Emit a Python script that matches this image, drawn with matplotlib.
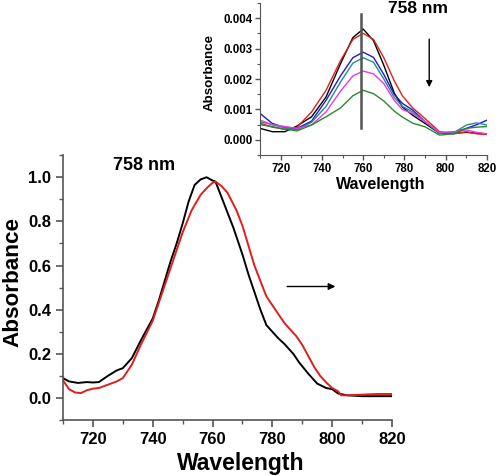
import numpy as np
import matplotlib.pyplot as plt
from matplotlib.ticker import MultipleLocator, FormatStrFormatter

plt.rcParams['font.family'] = ['Liberation Sans', 'DejaVu Sans']
plt.rcParams['font.weight'] = 'bold'

# main panel: normalised spectra
main_black_x = [710, 712, 715, 718, 720, 722, 725, 728, 730, 733, 736, 740, 742, 746, 748,
                750, 752, 754, 756, 758, 760, 761, 763, 765, 767, 770, 772, 774, 776, 778,
                780, 782, 784, 787, 789, 792, 795, 798, 800, 802, 805, 810, 815, 820]
main_black_y = [0.09, 0.075, 0.068, 0.072, 0.07, 0.072, 0.10, 0.125, 0.135, 0.18, 0.26, 0.36,
                0.44, 0.62, 0.70, 0.79, 0.89, 0.965, 0.99, 1.0, 0.985, 0.98, 0.91, 0.84, 0.77,
                0.65, 0.56, 0.48, 0.40, 0.33, 0.30, 0.27, 0.245, 0.20, 0.16, 0.11, 0.065,
                0.045, 0.04, 0.02, 0.012, 0.008, 0.008, 0.008]

main_red_x = [710, 712, 714, 716, 718, 720, 722, 725, 728, 730, 733, 736, 740, 745, 750, 753,
              756, 758, 760, 761, 763, 765, 768, 770, 772, 774, 776, 778, 780, 782, 784, 786,
              788, 790, 792, 794, 796, 798, 800, 802, 803, 805, 810, 815, 820]
main_red_y = [0.08, 0.04, 0.025, 0.022, 0.035, 0.042, 0.045, 0.06, 0.075, 0.09, 0.15, 0.24,
              0.35, 0.55, 0.75, 0.85, 0.92, 0.95, 0.975, 0.98, 0.96, 0.93, 0.85, 0.78, 0.69,
              0.60, 0.53, 0.46, 0.42, 0.38, 0.34, 0.31, 0.28, 0.24, 0.19, 0.14, 0.10, 0.07,
              0.045, 0.03, 0.012, 0.012, 0.015, 0.018, 0.018]

# inset: absorbance decreasing over time
inset_x = [710, 716, 722, 728, 735, 742, 749, 755, 760, 765, 770, 775, 779, 784, 790, 797,
           804, 810, 815, 820]
inset_black = [0.00038, 0.00027, 0.00027, 0.00046, 0.00076, 0.00141, 0.0025, 0.00336,
               0.00364, 0.00326, 0.00245, 0.00155, 0.00108, 0.00081, 0.00054, 0.00022,
               0.00022, 0.00025, 0.00022, 0.0002]
inset_red = [0.00055, 0.00042, 0.00035, 0.00042, 0.00092, 0.00163, 0.0026, 0.0033,
             0.0035, 0.0033, 0.0027, 0.00195, 0.00145, 0.00105, 0.0007, 0.00027,
             0.0002, 0.00027, 0.0002, 0.00018]
inset_blue = [0.00087, 0.00054, 0.00041, 0.00038, 0.00062, 0.0013, 0.0021, 0.0027,
              0.00288, 0.00271, 0.00215, 0.0015, 0.0012, 0.00098, 0.0006, 0.00022,
              0.00025, 0.00038, 0.0005, 0.00065]
inset_teal = [0.0006, 0.0005, 0.0004, 0.00033, 0.00058, 0.0011, 0.0019, 0.00252,
              0.0027, 0.00255, 0.002, 0.0014, 0.0011, 0.00092, 0.0006, 0.00022,
              0.00024, 0.00049, 0.00056, 0.00049]
inset_magenta = [0.00065, 0.0005, 0.00044, 0.00038, 0.00049, 0.00092, 0.0016, 0.0021,
                 0.00226, 0.00217, 0.00185, 0.0013, 0.001, 0.00087, 0.0006, 0.00025,
                 0.00027, 0.00033, 0.00025, 0.0002]
inset_green = [0.0005, 0.00044, 0.00035, 0.0003, 0.00049, 0.00076, 0.00105, 0.00145,
               0.00163, 0.00152, 0.00128, 0.00095, 0.00075, 0.00055, 0.00043, 0.00016,
               0.0002, 0.00038, 0.00042, 0.00044]

inset_series = [inset_black, inset_red, inset_blue, inset_teal, inset_magenta, inset_green]
inset_colors = ['black', '#e01e1e', '#1c1cd6', '#278c8c', '#e43ce4', '#2a8a2a']

fig = plt.figure(figsize=(5, 4.76), dpi=100)
spine_col = '#555555'

# main plot
ax = fig.add_axes([0.126, 0.1176, 0.658, 0.5564])
ax.plot(main_black_x, main_black_y, color='black', lw=1.4)
ax.plot(main_red_x, main_red_y, color='#e01e1e', lw=1.4)
ax.set_xlim(710, 820)
ax.set_ylim(-0.1, 1.1)
ax.xaxis.set_major_locator(MultipleLocator(20))
ax.xaxis.set_minor_locator(MultipleLocator(10))
ax.yaxis.set_major_locator(MultipleLocator(0.2))
ax.yaxis.set_minor_locator(MultipleLocator(0.1))
ax.yaxis.set_major_formatter(FormatStrFormatter('%.1f'))
ax.set_yticks([0.0, 0.2, 0.4, 0.6, 0.8, 1.0])
ax.set_xlabel('Wavelength', fontsize=16.5, fontweight='bold')
ax.set_ylabel('Absorbance', fontsize=16.2, fontweight='bold')
ax.xaxis.set_label_coords(0.54, -0.12)
ax.yaxis.set_label_coords(-0.12, 0.52)
ax.tick_params(labelsize=12, color=spine_col, width=1.2, length=5)
ax.tick_params(which='minor', color=spine_col, width=1.0, length=3)
for s in ['top', 'right']:
    ax.spines[s].set_visible(False)
for s in ['left', 'bottom']:
    ax.spines[s].set_color(spine_col)
    ax.spines[s].set_linewidth(1.2)
ax.text(737, 1.053, '758 nm', fontsize=13, fontweight='bold', ha='center', va='center')
ax.annotate('', xy=(802, 0.505), xytext=(784, 0.505),
            arrowprops=dict(arrowstyle='-|>', color='black', lw=1.0, mutation_scale=10))

# inset
ins = fig.add_axes([0.52, 0.674, 0.454, 0.32])
for ys, c in zip(inset_series, inset_colors):
    ins.plot(inset_x, ys, color=c, lw=1.0)
ins.plot([759, 759], [0.0004, 0.00414], color='#555555', lw=1.8)
ins.set_xlim(710, 820)
ins.set_ylim(-0.0005, 0.0045)
ins.xaxis.set_major_locator(MultipleLocator(20))
ins.xaxis.set_minor_locator(MultipleLocator(10))
ins.yaxis.set_major_locator(MultipleLocator(0.001))
ins.yaxis.set_minor_locator(MultipleLocator(0.0005))
ins.yaxis.set_major_formatter(FormatStrFormatter('%.3f'))
ins.set_yticks([0.0, 0.001, 0.002, 0.003, 0.004])
ins.set_xlabel('Wavelength', fontsize=11.5, fontweight='bold')
ins.set_ylabel('Absorbance', fontsize=9.6, fontweight='bold')
ins.xaxis.set_label_coords(0.53, -0.14)
ins.yaxis.set_label_coords(-0.195, 0.54)
ins.tick_params(labelsize=8.3, color=spine_col, width=1.0, length=3.5, pad=2)
ins.tick_params(which='minor', color=spine_col, width=0.8, length=2)
for s in ['top', 'right']:
    ins.spines[s].set_visible(False)
for s in ['left', 'bottom']:
    ins.spines[s].set_color(spine_col)
ins.text(786.7, 0.0043, '758 nm', fontsize=12.5, fontweight='bold', ha='center', va='center')
ins.annotate('', xy=(792, 0.00164), xytext=(792, 0.0034),
             arrowprops=dict(arrowstyle='-|>', color='black', lw=1.0, mutation_scale=9))

fig.savefig('out.png', dpi=100)
